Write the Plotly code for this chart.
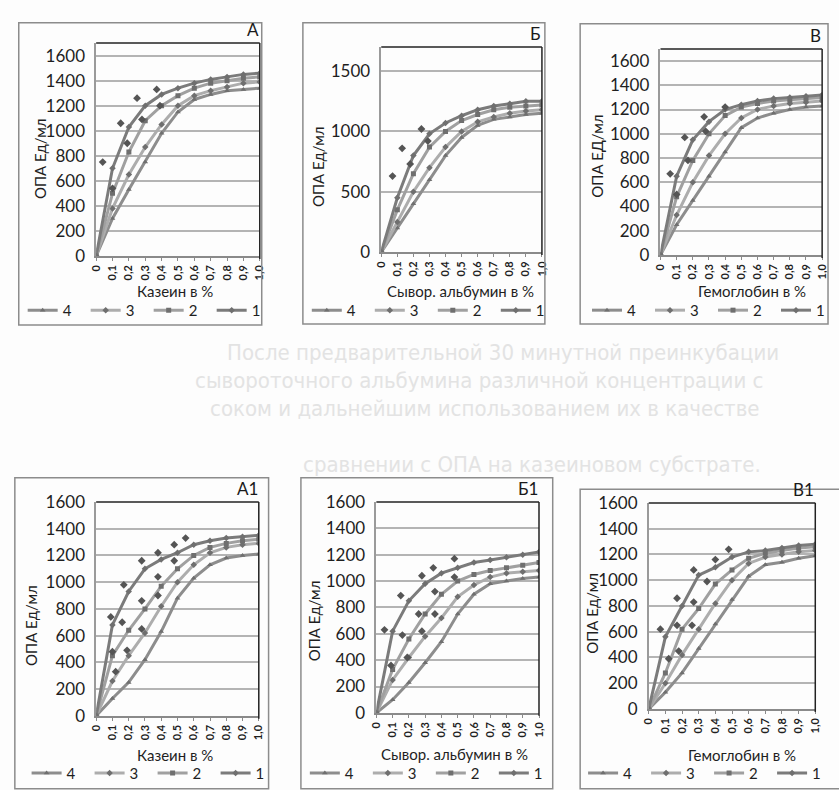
import plotly.graph_objects as go

# ---------------------------------------------------------------- data
conc = [0, 0.1, 0.2, 0.3, 0.4, 0.5, 0.6, 0.7, 0.8, 0.9, 1.0]
conc_labels = ["0", "0,1", "0,2", "0,3", "0,4", "0,5", "0,6", "0,7", "0,8", "0,9", "1,0"]
series_names = ["4", "3", "2", "1"]

# Казеин (А)
kaz_1 = [0, 700, 1030, 1200, 1290, 1340, 1380, 1410, 1430, 1450, 1460]
kaz_2 = [0, 500, 830, 1080, 1200, 1280, 1340, 1380, 1400, 1420, 1430]
kaz_3 = [0, 380, 650, 870, 1050, 1200, 1280, 1320, 1350, 1380, 1390]
kaz_4 = [0, 300, 530, 750, 980, 1150, 1250, 1290, 1320, 1330, 1340]
kaz_dots_x = [0.04, 0.15, 0.25, 0.37, 0.19, 0.28, 0.39, 0.10]
kaz_dots_y = [750, 1060, 1260, 1330, 900, 1090, 1200, 540]

# Сывороточный альбумин (Б)
alb_1 = [0, 450, 800, 980, 1070, 1130, 1180, 1210, 1230, 1250, 1250]
alb_2 = [0, 350, 650, 870, 1000, 1090, 1140, 1180, 1200, 1210, 1220]
alb_3 = [0, 250, 500, 700, 870, 1000, 1080, 1120, 1150, 1170, 1180]
alb_4 = [0, 200, 400, 600, 800, 950, 1050, 1100, 1120, 1140, 1150]
alb_dots_x = [0.07, 0.13, 0.25, 0.18, 0.29]
alb_dots_y = [630, 860, 1020, 730, 920]

# Гемоглобин (В)
hem_1 = [0, 650, 950, 1100, 1200, 1240, 1270, 1290, 1300, 1310, 1320]
hem_2 = [0, 480, 780, 1000, 1150, 1220, 1250, 1270, 1280, 1290, 1300]
hem_3 = [0, 330, 600, 820, 1000, 1130, 1200, 1230, 1250, 1260, 1270]
hem_4 = [0, 250, 450, 650, 850, 1050, 1130, 1170, 1200, 1220, 1230]
hem_dots_x = [0.06, 0.15, 0.27, 0.40, 0.17, 0.28, 0.10]
hem_dots_y = [670, 970, 1140, 1220, 780, 1020, 500]

# Казеин (А1)
kaz1_1 = [0, 680, 930, 1100, 1170, 1220, 1280, 1310, 1330, 1340, 1350]
kaz1_2 = [0, 450, 640, 800, 970, 1100, 1200, 1260, 1290, 1310, 1320]
kaz1_3 = [0, 260, 450, 620, 820, 1000, 1130, 1220, 1260, 1280, 1290]
kaz1_4 = [0, 130, 250, 420, 630, 880, 1030, 1130, 1180, 1200, 1210]
kaz1_dots_x = [0.09, 0.17, 0.28, 0.38, 0.48, 0.55, 0.16, 0.28, 0.38, 0.48,
               0.10, 0.19, 0.28, 0.38, 0.12]
kaz1_dots_y = [740, 980, 1160, 1220, 1280, 1330, 700, 860, 1040, 1160,
               480, 490, 650, 900, 330]

# Сывороточный альбумин (Б1)
alb1_1 = [0, 620, 850, 980, 1060, 1100, 1140, 1160, 1180, 1200, 1220]
alb1_2 = [0, 330, 560, 750, 900, 1000, 1050, 1080, 1100, 1120, 1140]
alb1_3 = [0, 250, 420, 580, 720, 880, 970, 1030, 1060, 1070, 1080]
alb1_4 = [0, 100, 230, 380, 540, 750, 900, 980, 1000, 1020, 1030]
alb1_dots_x = [0.05, 0.15, 0.28, 0.35, 0.48, 0.16, 0.26, 0.36, 0.48,
               0.09, 0.19, 0.28, 0.36]
alb1_dots_y = [630, 890, 1040, 1100, 1170, 590, 750, 920, 1030,
               360, 420, 620, 750]

# Гемоглобин (В1)
hem1_1 = [0, 560, 800, 1040, 1100, 1180, 1220, 1230, 1250, 1270, 1280]
hem1_2 = [0, 280, 620, 780, 970, 1080, 1170, 1210, 1230, 1250, 1260]
hem1_3 = [0, 200, 420, 620, 820, 1000, 1130, 1180, 1200, 1220, 1230]
hem1_4 = [0, 130, 280, 470, 660, 850, 1030, 1120, 1140, 1170, 1190]
hem1_dots_x = [0.07, 0.17, 0.27, 0.40, 0.48, 0.12, 0.17, 0.26, 0.27, 0.35, 0.18]
hem1_dots_y = [620, 860, 1080, 1160, 1240, 390, 650, 650, 830, 990, 450]

# ---------------------------------------------------------------- layout helpers
W, H = 839, 790
FONT = "Lato, 'Open Sans', sans-serif"
INK = "#1f1f1f"


def fx(x):
    return x / W


def fy(y):
    return 1 - y / H


# per-series style: name -> (line colour, marker symbol)
style = {
    "4": ("#8d8d8d", "triangle-up"),
    "3": ("#adadad", "diamond"),
    "2": ("#a0a0a0", "square"),
    "1": ("#7b7b7b", "diamond"),
}

panels = [
    dict(label="А", data={"1": kaz_1, "2": kaz_2, "3": kaz_3, "4": kaz_4},
         dots=(kaz_dots_x, kaz_dots_y), xtitle="Казеин в %", ytitle="ОПА Ед/мл",
         plot=(91, 258, 33, 252), box=(12, 12, 260, 323), ymax=1700, dtick=200,
         ytitle_pos=(33, 152), xtitle_pos=(171, 288), legend_pos=(16, 308)),
    dict(label="Б", data={"1": alb_1, "2": alb_2, "3": alb_3, "4": alb_4},
         dots=(alb_dots_x, alb_dots_y), xtitle="Сывор. альбумин в %", ytitle="ОПА Ед/мл",
         plot=(382, 546, 37, 248), box=(302, 12, 549, 322), ymax=1700, dtick=500,
         ytitle_pos=(317, 160), xtitle_pos=(463, 288), legend_pos=(306, 308)),
    dict(label="В", data={"1": hem_1, "2": hem_2, "3": hem_3, "4": hem_4},
         dots=(hem_dots_x, hem_dots_y), xtitle="Гемоглобин в %", ytitle="ОПА ЕД/мл",
         plot=(667, 832, 39, 251), box=(585, 13, 838, 322), ymax=1700, dtick=200,
         ytitle_pos=(602, 149), xtitle_pos=(760, 288), legend_pos=(592, 308)),
    dict(label="А1", data={"1": kaz1_1, "2": kaz1_2, "3": kaz1_3, "4": kaz1_4},
         dots=(kaz1_dots_x, kaz1_dots_y), xtitle="Казеин в %", ytitle="ОПА Ед/мл",
         plot=(91, 257, 505, 725), box=(8, 480, 267, 800), ymax=1600, dtick=200,
         ytitle_pos=(25, 632), xtitle_pos=(171, 765), legend_pos=(20, 784)),
    dict(label="Б1", data={"1": alb1_1, "2": alb1_2, "3": alb1_3, "4": alb1_4},
         dots=(alb1_dots_x, alb1_dots_y), xtitle="Сывор. альбумин в %", ytitle="ОПА Ед/мл",
         plot=(377, 543, 505, 722), box=(300, 480, 557, 800), ymax=1600, dtick=200,
         ytitle_pos=(313, 627), xtitle_pos=(457, 764), legend_pos=(304, 784)),
    dict(label="В1", data={"1": hem1_1, "2": hem1_2, "3": hem1_3, "4": hem1_4},
         dots=(hem1_dots_x, hem1_dots_y), xtitle="Гемоглобин в %", ytitle="ОПА Ед/мл",
         plot=(655, 825, 506, 718), box=(585, 492, 850, 800), ymax=1600, dtick=200,
         ytitle_pos=(597, 619), xtitle_pos=(750, 765), legend_pos=(588, 784)),
]

fig = go.Figure()
layout = dict(
    width=W, height=H,
    margin=dict(l=0, r=0, t=0, b=0),
    paper_bgcolor="#fdfdfd",
    plot_bgcolor="rgba(0,0,0,0)",
    font=dict(family=FONT, color=INK),
    showlegend=True,
)
shapes = []
annotations = []

# faint lines of the page text running behind the figures
page_lines = [
    (222, 351, "После предварительной 30 минутной преинкубации"),
    (190, 380, "сывороточного альбумина различной концентрации с"),
    (205, 409, "соком и дальнейшим использованием их в качестве"),
    (300, 467, "сравнении с ОПА на казеиновом субстрате."),
]
for x, y, t in page_lines:
    annotations.append(dict(
        x=fx(x), y=fy(y), xref="paper", yref="paper", xanchor="left", yanchor="middle",
        text=t, showarrow=False,
        font=dict(family="'DejaVu Sans Condensed', 'DejaVu Sans', sans-serif",
                  size=22, color="#e3e3e3")))

for i, p in enumerate(panels, start=1):
    xa = "x" if i == 1 else f"x{i}"
    ya = "y" if i == 1 else f"y{i}"
    lg = "legend" if i == 1 else f"legend{i}"
    x0, x1, y0, y1 = p["plot"]

    # curves, legend order 4, 3, 2, 1
    for name in series_names:
        color, sym = style[name]
        fig.add_trace(go.Scatter(
            x=conc, y=p["data"][name], name=name, mode="lines+markers",
            line=dict(color=color, width=3),
            marker=dict(symbol=sym, size=5, color="#6f6f6f"),
            xaxis=xa, yaxis=ya, legend=lg, showlegend=True))

    # loose measured points
    dx, dy = p["dots"]
    fig.add_trace(go.Scatter(
        x=dx, y=dy, mode="markers", showlegend=False,
        marker=dict(symbol="diamond", size=6, color="#555555"),
        xaxis=xa, yaxis=ya))

    layout[f"xaxis{'' if i == 1 else i}"] = dict(
        domain=[fx(x0), fx(x1)], anchor=ya, range=[0, 1.0],
        tickvals=conc, ticktext=conc_labels, tickangle=-90,
        tickfont=dict(size=11, color=INK, weight="bold"), ticks="outside", ticklen=3,
        tickcolor="#8a8a8a", showgrid=False, zeroline=False,
        showline=True, linecolor="#8a8a8a", linewidth=1.5, fixedrange=True)
    layout[f"yaxis{'' if i == 1 else i}"] = dict(
        domain=[fy(y1), fy(y0)], anchor=xa, range=[0, p["ymax"]],
        tick0=0, dtick=p["dtick"], tickfont=dict(size=17, color=INK),
        showgrid=True, gridcolor="#b4b4b4", gridwidth=1.5, zeroline=False,
        showline=True, linecolor="#9a9a9a", linewidth=1.5, ticks="",
        ticklabelstandoff=6, fixedrange=True)

    # outer chart frame
    bx0, by0, bx1, by1 = p["box"]
    shapes.append(dict(type="rect", xref="paper", yref="paper",
                       x0=fx(bx0), x1=fx(bx1), y0=fy(by1), y1=fy(by0),
                       line=dict(color="#8c8c8c", width=1.5)))
    # dark top and right edges of the plot area
    shapes.append(dict(type="line", xref="paper", yref="paper",
                       x0=fx(x0), x1=fx(x1), y0=fy(y0), y1=fy(y0),
                       line=dict(color="#222222", width=1.5)))
    shapes.append(dict(type="line", xref="paper", yref="paper",
                       x0=fx(x1), x1=fx(x1), y0=fy(y1 + 3), y1=fy(y0),
                       line=dict(color="#222222", width=1.5)))

    # panel letter
    annotations.append(dict(x=fx(x1 + 1), y=fy(y0 - 1), xref="paper", yref="paper",
                            xanchor="right", yanchor="bottom", text=p["label"],
                            showarrow=False, font=dict(size=17, color="#1a1a1a")))
    # axis titles
    tx, ty = p["ytitle_pos"]
    annotations.append(dict(x=fx(tx), y=fy(ty), xref="paper", yref="paper",
                            xanchor="center", yanchor="middle", textangle=-90,
                            text=p["ytitle"], showarrow=False,
                            font=dict(size=15, color=INK)))
    tx, ty = p["xtitle_pos"]
    annotations.append(dict(x=fx(tx), y=fy(ty), xref="paper", yref="paper",
                            xanchor="center", yanchor="middle",
                            text=p["xtitle"], showarrow=False,
                            font=dict(size=15, color=INK)))

    # legend under each chart
    lx, ly = p["legend_pos"]
    layout[lg] = dict(orientation="h", x=fx(lx), y=fy(ly), xanchor="left",
                      yanchor="middle", bgcolor="rgba(0,0,0,0)",
                      font=dict(size=15, color=INK),
                      entrywidth=18, itemwidth=30, traceorder="normal",
                      tracegroupgap=0)

layout["shapes"] = shapes
layout["annotations"] = annotations
fig.update_layout(**layout)
fig.write_html("out.html")
